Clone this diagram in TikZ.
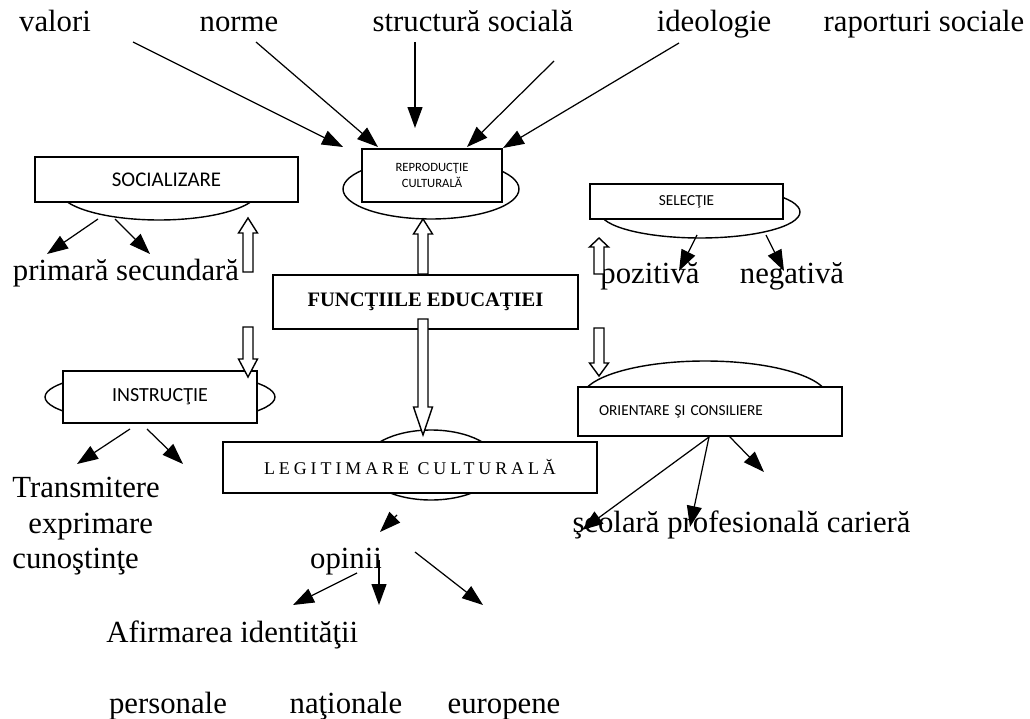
\documentclass[tikz,border=0pt]{standalone}
\usepackage{fontspec}
\setmainfont{Liberation Serif}
\newfontfamily\boxfont{Carlito}
\newfontfamily\spacedfont[LetterSpace=22]{Liberation Serif}
\usetikzlibrary{shapes.geometric,arrows.meta,calc}

\tikzset{
	txt/.style={font=\fontsize{17.5}{19}\selectfont, inner sep=0pt, anchor=base},
	box/.style={draw, fill=white, rectangle, inner sep=0pt, line width=0.8pt, align=center},
	oval/.style={draw, fill=white, ellipse, inner sep=0pt, line width=0.8pt},
	arr/.style={-{Triangle[length=0.42cm,width=0.3cm]}, line width=0.7pt},
}

% hollow vertical arrow: [head length]{start}{tip}
\newcommand{\fatarrow}[3][0.3cm]{%
	\draw[line width=0.8pt, fill=white] let \p1=(#2), \p2=(#3), \p3=($(#3)!#1!(#2)$) in
		(\x1-0.1cm,\y1) -- (\x1-0.1cm,\y3) -- (\x1-0.19cm,\y3) -- (\x2,\y2)
		-- (\x1+0.19cm,\y3) -- (\x1+0.1cm,\y3) -- (\x1+0.1cm,\y1) -- cycle;}

\begin{document}
\begin{tikzpicture}[x=0.02cm, y=-0.02cm]
	\useasboundingbox (0,0) rectangle (1030,719);
	%%%%%%%%%%%%% top labels
	\node[txt] (valori) at (55,32) {valori};
	\node[txt] (norme) at (239,32) {norme};
	\node[txt] (struct) at (473,32) {structură socială};
	\node[txt] (ideo) at (714,32) {ideologie};
	\node[txt] (rap) at (924,32) {raporturi sociale};
	%%%%%%%%%%%%% boxes
	\node[oval, minimum width=4cm, minimum height=1.2cm] (soc-ell) at (159,190) {};
	\node[box, minimum width=5.26cm, minimum height=0.9cm, font=\boxfont\fontsize{11.9}{14}\selectfont] (soc) at (166.5,179.5) {SOCIALIZARE};
	\node[oval, minimum width=3.52cm, minimum height=1.2cm] (repr-ell) at (431,189) {};
	\node[box, minimum width=2.8cm, minimum height=1.06cm, font=\boxfont\fontsize{7.2}{9}\selectfont] (repr) at (432,175.5) {REPRODUCŢIE\\CULTURALĂ};
	\node[oval, minimum width=4cm, minimum height=1.04cm] (sel-ell) at (700,212) {};
	\node[box, minimum width=3.86cm, minimum height=0.7cm, font=\boxfont\fontsize{8.7}{10}\selectfont] (sel) at (686.5,201.5) {SELECŢIE};
	\node[box, minimum width=6.1cm, minimum height=1.08cm, font=\bfseries\fontsize{11.7}{14}\selectfont] (fun) at (425.5,302) {FUNCŢIILE EDUCAŢIEI};
	\node[oval, minimum width=4.6cm, minimum height=1.04cm] (ins-ell) at (160,397) {};
	\node[box, minimum width=3.88cm, minimum height=1.04cm, font=\boxfont\fontsize{11.4}{14}\selectfont] (ins) at (160,397) {INSTRUCŢIE};
	\node[oval, minimum width=2.72cm, minimum height=1.4cm] (leg-ell) at (431,465) {};
	\node[box, minimum width=7.48cm, minimum height=1.02cm, font=\spacedfont\fontsize{10.2}{12}\selectfont] (leg) at (410,467.5) {LEGITIMARE CULTURALĂ};
	\node[oval, minimum width=4.92cm, minimum height=1.48cm] (ori-ell) at (705,398) {};
	\node[box, minimum height=0.98cm, inner xsep=0.42cm, text width=4.44cm, align=left, font=\boxfont\fontsize{8.7}{10}\selectfont] (ori) at (710,411.5) {ORIENTARE ŞI CONSILIERE};
	%%%%%%%%%%%%% other labels
	\node[txt] (prim) at (126,280) {primară secundară};
	\node[txt] (poz) at (650,284) {pozitivă};
	\node[txt] (neg) at (792,284) {negativă};
	\node[txt, anchor=base west] (trans) at (12,497) {Transmitere};
	\node[txt, anchor=base west] (expr) at (28,533) {exprimare};
	\node[txt, anchor=base west] (cun) at (12,568) {cunoştinţe};
	\node[txt] (opin) at (346,568) {opinii};
	\node[txt] (scol) at (741.5,532) {şcolară profesională carieră};
	\node[txt, anchor=base west] (afirm) at (106,642) {Afirmarea identităţii};
	\node[txt] (pers) at (168,713) {personale};
	\node[txt] (nat) at (346,713) {naţionale};
	\node[txt] (euro) at (504,713) {europene};
	%%%%%%%%%%%%% arrow ends
	\coordinate (v1) at (133,42);   \coordinate (v2) at (343,147);
	\coordinate (n1) at (256,42);   \coordinate (n2) at (378,147);
	\coordinate (s1) at (415,42);   \coordinate (s2) at (415,128);
	\coordinate (c1) at (554,61);   \coordinate (c2) at (467,147);
	\coordinate (i1) at (679,43);   \coordinate (i2) at (503,148);
	\coordinate (so1) at (98,219);  \coordinate (so2) at (47,254);
	\coordinate (so3) at (115,219); \coordinate (so4) at (150,254);
	\coordinate (se1) at (697,235); \coordinate (se2) at (679,271);
	\coordinate (se3) at (766,235); \coordinate (se4) at (784,271);
	\coordinate (in1) at (130,429); \coordinate (in2) at (77,464);
	\coordinate (in3) at (147,429); \coordinate (in4) at (183,464);
	\coordinate (or1) at (709,437); \coordinate (or2) at (582,530);
	\coordinate (or3) at (690,527);
	\coordinate (or4) at (729,436); \coordinate (or5) at (764,472);
	\coordinate (le1) at (397,515); \coordinate (le2) at (380,532);
	\coordinate (op1) at (357,573); \coordinate (op2) at (293,605);
	\coordinate (op3) at (379,560); \coordinate (op4) at (379,605);
	\coordinate (op5) at (415,552); \coordinate (op6) at (483,605);
	%%%%%%%%%%%%% thin arrows
	\draw[arr] (v1) -- (v2);
	\draw[arr] (n1) -- (n2);
	\draw[arr] (s1) -- (s2);
	\draw[arr] (c1) -- (c2);
	\draw[arr] (i1) -- (i2);
	\draw[arr] (so1) -- (so2);
	\draw[arr] (so3) -- (so4);
	\draw[arr] (se1) -- (se2);
	\draw[arr] (se3) -- (se4);
	\draw[arr] (in1) -- (in2);
	\draw[arr] (in3) -- (in4);
	\draw[arr] (or1) -- (or2);
	\draw[arr] (or1) -- (or3);
	\draw[arr] (or4) -- (or5);
	\draw[arr] (le1) -- (le2);
	\draw[arr] (op1) -- (op2);
	\draw[arr] (op3) -- (op4);
	\draw[arr] (op5) -- (op6);
	%%%%%%%%%%%%% hollow arrows
	\coordinate (h1a) at (248,272); \coordinate (h1b) at (248,218);
	\coordinate (h2a) at (423,274); \coordinate (h2b) at (423,219);
	\coordinate (h3a) at (599,274); \coordinate (h3b) at (599,238);
	\coordinate (h4a) at (248,327); \coordinate (h4b) at (248,377);
	\coordinate (h5a) at (423,319); \coordinate (h5b) at (423,435);
	\coordinate (h6a) at (599,328); \coordinate (h6b) at (599,376);
	\fatarrow{h1a}{h1b}
	\fatarrow{h2a}{h2b}
	\fatarrow[0.18cm]{h3a}{h3b}
	\fatarrow[0.36cm]{h4a}{h4b}
	\fatarrow[0.56cm]{h5a}{h5b}
	\fatarrow[0.26cm]{h6a}{h6b}
\end{tikzpicture}
\end{document}
